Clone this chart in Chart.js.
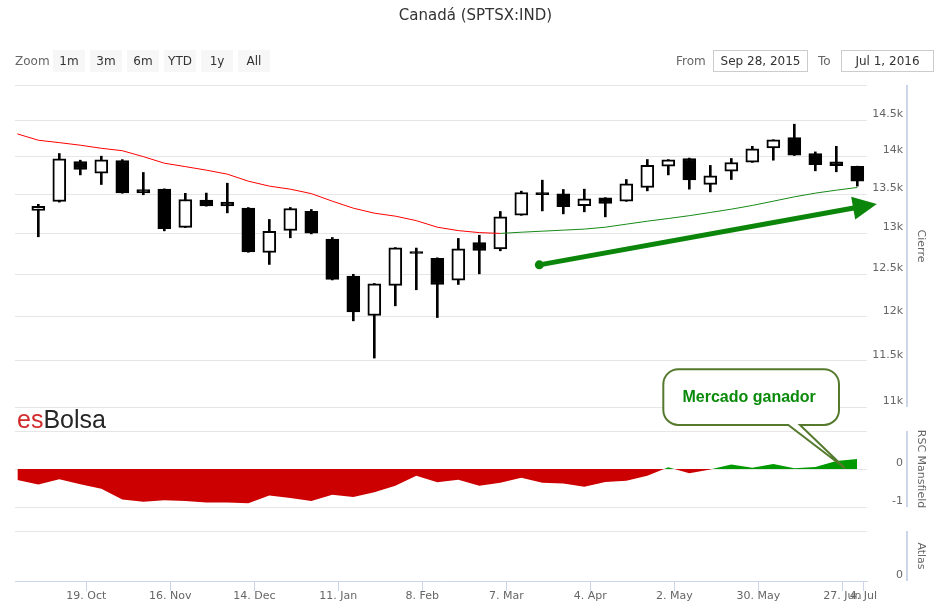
<!DOCTYPE html>
<html lang="es">
<head>
  <meta charset="UTF-8">
  <title>Canadá (SPTSX:IND)</title>
  <style>
    body {
      margin: 0;
      background: #ffffff;
      font-family: "DejaVu Sans", Verdana, sans-serif;
    }

    #wrap {
      position: relative;
      width: 936px;
      height: 613px;
    }

    #chart {
      position: absolute;
      left: 0;
      top: 0;
    }

    .rs {
      position: absolute;
      top: 50px;
      height: 22px;
      line-height: 22px;
      font-size: 12px;
      white-space: nowrap;
    }

    .lbl { color: #666666; }

    .btn {
      width: 32px;
      background: #f7f7f7;
      color: #333333;
      text-align: center;
    }

    .inp {
      box-sizing: border-box;
      border: 1px solid #cccccc;
      color: #333333;
      text-align: center;
      line-height: 20px;
    }
  </style>
</head>
<body>

<div id="wrap">
  <canvas id="chart" width="936" height="613"></canvas>

  <div class="rs lbl" style="left:15px">Zoom</div>
  <div class="rs btn" style="left:53px">1m</div>
  <div class="rs btn" style="left:90px">3m</div>
  <div class="rs btn" style="left:127px">6m</div>
  <div class="rs btn" style="left:164px">YTD</div>
  <div class="rs btn" style="left:201px">1y</div>
  <div class="rs btn" style="left:238px">All</div>

  <div class="rs lbl" style="left:676px">From</div>
  <div class="rs inp" style="left:713px;width:95px">Sep 28, 2015</div>
  <div class="rs lbl" style="left:818px">To</div>
  <div class="rs inp" style="left:841px;width:93px">Jul 1, 2016</div>
</div>

<script src="https://cdn.jsdelivr.net/npm/chart.js"></script>

<script>
  // x values are days counted from Sat 3 Oct 2015
  const tickDays = [16, 44, 72, 100, 128, 156, 184, 212, 240, 268, 275];
  const tickLabels = ["19. Oct", "16. Nov", "14. Dec", "11. Jan", "8. Feb", "7. Mar",
                      "4. Apr", "2. May", "30. May", "27. Jun", "4. Jul"];

  // weekly candles
  const weekDays = [0, 7, 14, 21, 28, 35, 42, 49, 56, 63, 70, 77, 84, 91, 98, 105, 112, 119, 126, 133,
                    140, 147, 154, 161, 168, 175, 182, 189, 196, 203, 210, 217, 224, 231, 238, 245, 252, 259, 266, 273];
  const open  = [13294, 13408, 13935, 13779, 13948, 13564, 13568, 13078, 13425, 13399,
                 13322, 12765, 13039, 13283, 12930, 12478, 12014, 12368, 12777, 12693,
                 12430, 12889, 12810, 13232, 13525, 13508, 13355, 13455, 13412, 13590,
                 13872, 13975, 13630, 13806, 13925, 14117, 14260, 14042, 13930, 13870];
  const high  = [13371, 14042, 13952, 14006, 13960, 13788, 13572, 13514, 13517, 13646,
                 13330, 13178, 13331, 13305, 12951, 12500, 12390, 12826, 12820, 12700,
                 12939, 12979, 13280, 13542, 13686, 13564, 13568, 13458, 13695, 13961,
                 13960, 13980, 13882, 13975, 14140, 14230, 14444, 14064, 14140, 13872];
  const low   = [12960, 13400, 13756, 13629, 13515, 13495, 13034, 13075, 13348, 13262,
                 12768, 12619, 12947, 12996, 12432, 11952, 11531, 12126, 12315, 11990,
                 12378, 12505, 12786, 13230, 13287, 13249, 13275, 13211, 13410, 13546,
                 13756, 13568, 13533, 13695, 13922, 13952, 14015, 13810, 13797, 13608];
  const close = [13346, 13970, 13828, 13956, 13520, 13520, 13060, 13434, 13351, 13351,
                 12772, 13027, 13318, 13004, 12438, 12056, 12386, 12822, 12753, 12378,
                 12810, 12790, 13211, 13525, 13495, 13342, 13442, 13382, 13637, 13882,
                 13956, 13690, 13743, 13921, 14104, 14227, 14020, 13893, 13880, 13673];

  // moving average and RSC Mansfield, one week earlier than the first candle included
  const lineDays = [-7].concat(weekDays);
  const movingAvg = [14310, 14223, 14190, 14155, 14113, 14080, 14000, 13912, 13866, 13819, 13766,
                     13673, 13608, 13568, 13510, 13412, 13322, 13258, 13220, 13163, 13080,
                     13037, 13012, 13002, 13017, 13030, 13043, 13056, 13080, 13118, 13156,
                     13190, 13226, 13267, 13309, 13357, 13412, 13468, 13516, 13555, 13590];
  const splitAt = 23; // red up to 7 Mar, green afterwards
  const rscMansfield = [-0.29, -0.41, -0.27, -0.40, -0.52, -0.80, -0.86, -0.82, -0.84, -0.88, -0.88,
                        -0.90, -0.70, -0.76, -0.84, -0.68, -0.74, -0.61, -0.44, -0.18, -0.35,
                        -0.28, -0.44, -0.36, -0.23, -0.36, -0.38, -0.47, -0.34, -0.31, -0.18,
                        0.045, -0.11, -0.01, 0.12, 0.03, 0.13, 0.02, 0.05, 0.21, 0.26];

  const closeTicks  = [11000, 11500, 12000, 12500, 13000, 13500, 14000, 14500, 15000];
  const closeLabels = ["11k", "11.5k", "12k", "12.5k", "13k", "13.5k", "14k", "14.5k", ""];
  const rscTicks  = [-1, 0, 1];
  const rscLabels = ["-1", "0", ""];
  const atlasTicks  = [0, 1];
  const atlasLabels = ["0", ""];

  // annotations (data coordinates)
  const trendFrom = { day: 167, value: 12614 };
  const trendTo   = { day: 279.5, value: 13377 };
  const calloutAt = { day: 268.9, value: 0.02 };
  const calloutText = "Mercado ganador";

  const FONT = '"DejaVu Sans", Verdana, sans-serif';
  const panes = { y: [85, 407], rsc: [431, 507], atlas: [531, 581] };
  const xAxisTop = 581, xAxisBottom = 613;

  function pts(days, vals) {
    return days.map((d, i) => ({ x: d, y: vals[i] }));
  }

  const bodies = weekDays.map((d, i) => ({ x: d, y: [open[i], close[i]] }));
  const wicks = weekDays.map((d, i) => ({ x: d, y: [low[i], high[i]] }));

  function yAxis(type, stackWeight, min, max, ticks, labels, title) {
    return {
      type: type,
      position: "right",
      stack: "panes",
      stackWeight: stackWeight,
      min: min,
      max: max,
      afterBuildTicks: s => { s.ticks = ticks.map(v => ({ value: v })); },
      afterFit: s => { s.width = 69; },
      grid: { color: "#e6e6e6", drawTicks: false },
      border: { display: false },
      ticks: {
        mirror: true,
        crossAlign: "near",
        padding: 36,
        labelOffset: -6,
        color: "#666666",
        font: { family: FONT, size: 11 },
        callback: (v, i) => labels[i]
      },
      title: {
        display: true,
        text: title,
        color: "#666666",
        font: { family: FONT, size: 11 },
        padding: { top: 9, bottom: 0 }
      }
    };
  }

  // put every pane at its own height, with gaps between them
  const paneLayout = {
    id: "paneLayout",
    afterLayout(chart) {
      const area = chart.chartArea;
      area.bottom = xAxisTop;
      area.height = area.bottom - area.top;
      const xs = chart.scales.x;
      xs.top = xAxisTop;
      xs.bottom = xAxisBottom;
      xs.height = xAxisBottom - xAxisTop;
      xs.configure();
      xs._labelItems = null;
      xs._gridLineItems = null;
      Object.keys(panes).forEach(id => {
        const s = chart.scales[id];
        s.top = panes[id][0];
        s.bottom = panes[id][1];
        s.height = s.bottom - s.top;
        s.configure();
        s._labelItems = null;
        s._gridLineItems = null;
      });
    }
  };

  const decor = {
    id: "decor",
    beforeDatasetsDraw(chart) {
      const ctx = chart.ctx;
      ctx.save();
      ctx.font = '25px "Liberation Sans", Arial, sans-serif';
      ctx.textBaseline = "alphabetic";
      ctx.fillStyle = "#d12a2a";
      ctx.fillText("es", 17, 428);
      const w = ctx.measureText("es").width;
      ctx.fillStyle = "#262626";
      ctx.fillText("Bolsa", 17 + w, 428);
      ctx.restore();
    },
    afterDraw(chart) {
      const ctx = chart.ctx;
      const xs = chart.scales.x, ys = chart.scales.y, rs = chart.scales.rsc;

      // vertical axis lines
      ctx.save();
      ctx.strokeStyle = "#ccd6eb";
      ctx.lineWidth = 2;
      const ax = chart.chartArea.right + 40;
      Object.keys(panes).forEach(id => {
        const s = chart.scales[id];
        ctx.beginPath();
        ctx.moveTo(ax, s.top);
        ctx.lineTo(ax, s.bottom);
        ctx.stroke();
      });
      ctx.restore();

      // trend arrow
      const x1 = xs.getPixelForValue(trendFrom.day), y1 = ys.getPixelForValue(trendFrom.value);
      const x2 = xs.getPixelForValue(trendTo.day), y2 = ys.getPixelForValue(trendTo.value);
      const a = Math.atan2(y2 - y1, x2 - x1);
      const c = Math.cos(a), sn = Math.sin(a);
      const bx = x2 - 24 * c, by = y2 - 24 * sn;
      ctx.save();
      ctx.strokeStyle = ctx.fillStyle = "#0b860b";
      ctx.lineWidth = 5;
      ctx.beginPath();
      ctx.moveTo(x1, y1);
      ctx.lineTo(bx + 2 * c, by + 2 * sn);
      ctx.stroke();
      ctx.beginPath();
      ctx.moveTo(x2, y2);
      ctx.lineTo(bx - 11.5 * sn, by + 11.5 * c);
      ctx.lineTo(bx + 11.5 * sn, by - 11.5 * c);
      ctx.closePath();
      ctx.fill();
      ctx.beginPath();
      ctx.arc(x1, y1, 4.5, 0, Math.PI * 2);
      ctx.fill();
      ctx.restore();

      // callout
      const tx = xs.getPixelForValue(calloutAt.day), ty = rs.getPixelForValue(calloutAt.value);
      const L = tx - 181.7, R = tx - 6, T = ty - 99, B = ty - 43.3, r = 15;
      ctx.save();
      ctx.beginPath();
      ctx.moveTo(L + r, T);
      ctx.lineTo(R - r, T);
      ctx.arcTo(R, T, R, T + r, r);
      ctx.lineTo(R, B - r);
      ctx.arcTo(R, B, R - r, B, r);
      ctx.lineTo(tx - 45, B);
      ctx.lineTo(tx, ty);
      ctx.lineTo(tx - 56.7, B);
      ctx.lineTo(L + r, B);
      ctx.arcTo(L, B, L, B - r, r);
      ctx.lineTo(L, T + r);
      ctx.arcTo(L, T, L + r, T, r);
      ctx.closePath();
      ctx.fillStyle = "#ffffff";
      ctx.fill();
      ctx.strokeStyle = "#557a2e";
      ctx.lineWidth = 2;
      ctx.stroke();
      ctx.fillStyle = "#0a8a0a";
      ctx.font = 'bold 16px "Liberation Sans", Arial, sans-serif';
      ctx.textAlign = "center";
      ctx.textBaseline = "alphabetic";
      ctx.fillText(calloutText, (L + R) / 2 - 2, T + 32.5);
      ctx.restore();
    }
  };

  new Chart(document.getElementById("chart"), {
    type: "bar",
    data: {
      datasets: [
        {
          type: "line",
          data: pts(lineDays.slice(0, splitAt + 1), movingAvg.slice(0, splitAt + 1)),
          borderColor: "#ff0000",
          borderWidth: 1,
          pointRadius: 0,
          yAxisID: "y",
          order: 1
        },
        {
          type: "line",
          data: pts(lineDays.slice(splitAt), movingAvg.slice(splitAt)),
          borderColor: "#168a16",
          borderWidth: 1,
          pointRadius: 0,
          yAxisID: "y",
          order: 1
        },
        {
          type: "bar",
          data: bodies,
          backgroundColor: ctx => close[ctx.dataIndex] >= open[ctx.dataIndex] ? "#ffffff" : "#000000",
          borderColor: "#000000",
          borderWidth: 2,
          borderSkipped: false,
          barThickness: 13,
          grouped: false,
          yAxisID: "y",
          order: 2
        },
        {
          type: "bar",
          data: wicks,
          backgroundColor: "#000000",
          barThickness: 2,
          grouped: false,
          yAxisID: "y",
          order: 3
        },
        {
          type: "line",
          data: pts(lineDays, rscMansfield),
          borderWidth: 0,
          borderColor: "rgba(0,0,0,0)",
          pointRadius: 0,
          fill: { target: "origin", above: "#009900", below: "#cc0000" },
          yAxisID: "rsc",
          order: 4
        }
      ]
    },
    options: {
      responsive: false,
      animation: false,
      layout: { padding: { left: 15, right: 0, top: 0, bottom: 0 } },
      plugins: {
        legend: { display: false },
        tooltip: { enabled: false },
        title: {
          display: true,
          text: "Canadá (SPTSX:IND)",
          color: "#333333",
          font: { family: FONT, size: 15, weight: "normal" },
          padding: { top: 7, bottom: 60 }
        }
      },
      scales: {
        x: {
          type: "linear",
          min: -7.77,
          max: 276.23,
          offset: false,
          afterBuildTicks: s => { s.ticks = tickDays.map(v => ({ value: v })); },
          afterFit: s => { s.height = 32; },
          grid: { drawOnChartArea: false, drawTicks: true, tickLength: 10, color: "#ccd6eb", offset: false },
          border: { display: true, color: "#ccd6eb" },
          ticks: {
            autoSkip: false,
            maxRotation: 0,
            minRotation: 0,
            padding: -1.5,
            color: "#666666",
            font: { family: FONT, size: 11 },
            callback: (v, i) => tickLabels[i]
          }
        },
        y: yAxis("logarithmic", 322, 11000, 15000, closeTicks, closeLabels, "Cierre"),
        rsc: yAxis("linear", 76, -1, 1, rscTicks, rscLabels, "RSC Mansfield"),
        atlas: yAxis("linear", 50, 0, 1, atlasTicks, atlasLabels, "Atlas")
      }
    },
    plugins: [paneLayout, decor]
  });
</script>

</body>
</html>
